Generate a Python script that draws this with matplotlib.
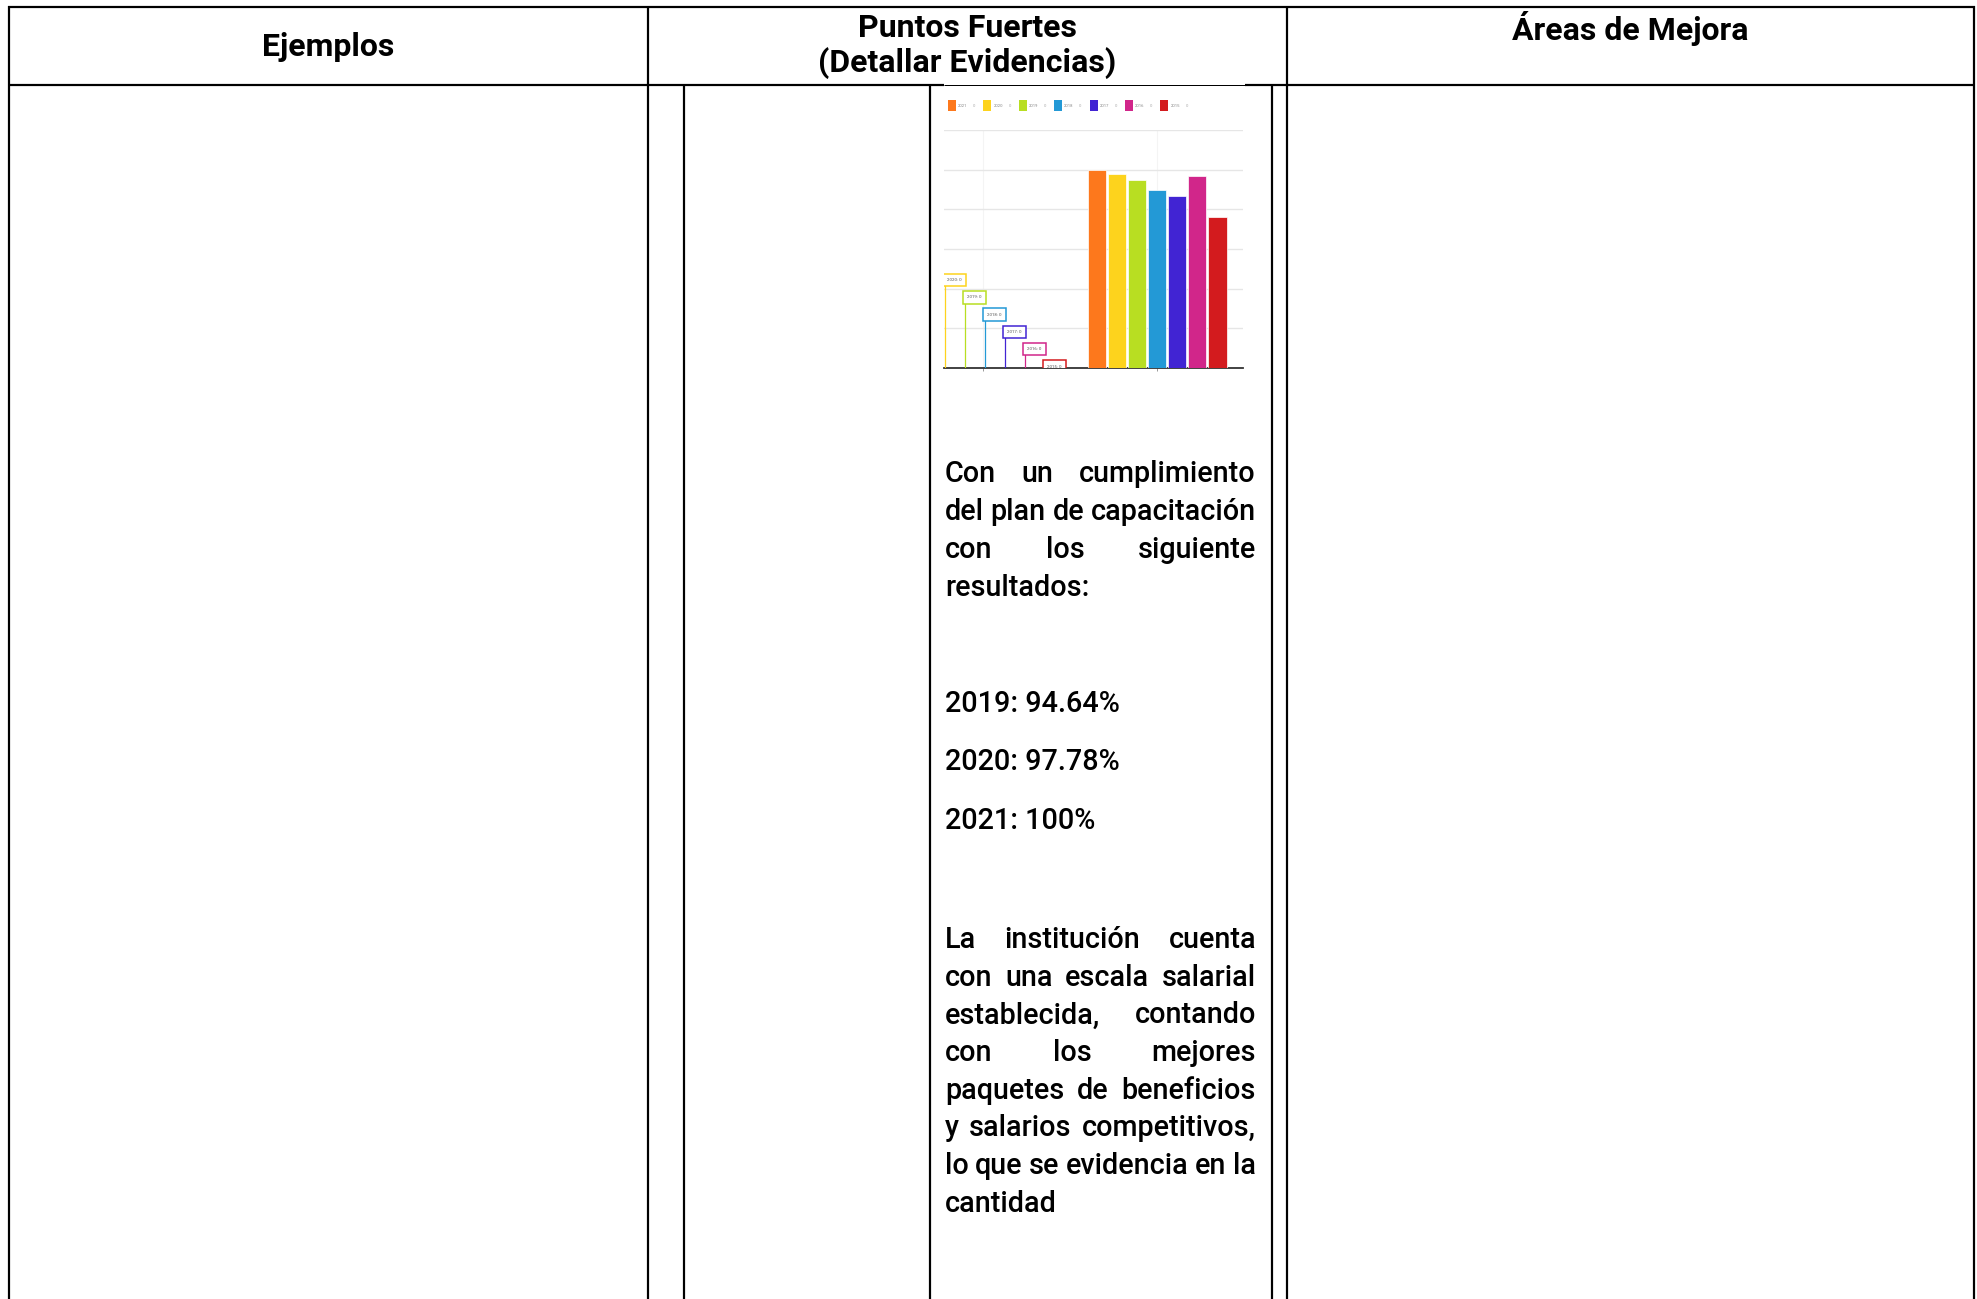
import matplotlib
matplotlib.use("Agg")
import matplotlib.pyplot as plt
from matplotlib.patches import Rectangle
import numpy as np

# ---------------- data ----------------
series_years = ["2021", "2020", "2019", "2018", "2017", "2016", "2015"]
series_colors = ["#fd781c", "#fdd31d", "#b8de22", "#2399d6", "#4124d3", "#d1268a", "#d31b1e"]
categories = ["A", "B"]
values_cat_a = [0, 0, 0, 0, 0, 0, 0]
values_cat_b = [100, 97.78, 94.64, 89.6, 86.7, 97.0, 76.3]
y_ticks = [0, 20, 40, 60, 80, 100, 120]

headers = ["Ejemplos", "Puntos Fuertes\n(Detallar Evidencias)", "Áreas de Mejora"]
para1 = ["Con un cumplimiento", "del plan de capacitación", "con los siguiente", "resultados:"]
results = ["2019: 94.64%", "2020: 97.78%", "2021: 100%"]
para2 = ["La institución cuenta", "con una  escala salarial", "establecida, contando",
         "con los mejores", "paquetes de beneficios", "y salarios competitivos,",
         "lo que se evidencia en la", "cantidad"]

W, H = 1977, 1299
FONT = ["Roboto", "DejaVu Sans"]

fig = plt.figure(figsize=(W / 100, H / 100), dpi=100)
fig.patch.set_facecolor("white")
ov = fig.add_axes([0, 0, 1, 1])
ov.set_xlim(0, W)
ov.set_ylim(H, 0)
ov.axis("off")
renderer = fig.canvas.get_renderer()

PX = 72 / 100  # points per pixel
LW = 2.2 * PX

# ---------------- table grid ----------------
def hline(y, x0, x1, lw=LW):
    ov.plot([x0, x1], [y, y], color="black", lw=lw, solid_capstyle="butt")

def vline(x, y0, y1, lw=LW):
    ov.plot([x, x], [y0, y1], color="black", lw=lw, solid_capstyle="butt")

hline(7, 8, 1975)
hline(85, 8, 944)
hline(85, 1245, 1975)
hline(84.5, 944, 1245, lw=1.0 * PX)
for x in [9, 648, 1287, 1974]:
    vline(x, 6, H)
for x in [684, 930, 1272]:
    vline(x, 85, H)

# ---------------- helpers ----------------
def twidth(s, size, weight="normal"):
    t = ov.text(0, 0, s, fontsize=size, family=FONT, weight=weight)
    w = t.get_window_extent(renderer).width
    t.remove()
    return w

def fit_size(s, target, weight="normal"):
    return 20 * target / twidth(s, 20, weight)

# ---------------- headers ----------------
hsize = fit_size("(Detallar Evidencias)", 296, "bold")
ov.text(328.5, 47, headers[0], fontsize=hsize, family=FONT, weight="bold",
        ha="center", va="center")
ov.text(967.5, 46, headers[1], fontsize=hsize, family=FONT, weight="bold",
        ha="center", va="center", linespacing=1.18)
ov.text(1630.5, 28, headers[2], fontsize=hsize, family=FONT, weight="bold",
        ha="center", va="center")

# ---------------- body text (justified) ----------------
BW = "medium"
bsize = fit_size("del plan de capacitación", 312, BW)
X0, X1 = 945, 1256

def justified(lines, y0, step):
    for i, line in enumerate(lines):
        y = y0 + i * step
        words = line.split()
        last = i == len(lines) - 1
        if last or len(words) == 1:
            ov.text(X0, y, line, fontsize=bsize, family=FONT, weight=BW,
                    ha="left", va="baseline")
            continue
        widths = [twidth(w, bsize, BW) for w in words]
        gap = (X1 - X0 - sum(widths)) / (len(words) - 1)
        x = X0
        for w, wd in zip(words, widths):
            ov.text(x, y, w, fontsize=bsize, family=FONT, weight=BW,
                    ha="left", va="baseline")
            x += wd + gap

justified(para1, 482, 38)
for i, r in enumerate(results):
    ov.text(X0, 712 + i * 58.3, r, fontsize=bsize, family=FONT, weight=BW,
            ha="left", va="baseline")
justified(para2, 948, 37.7)

# ---------------- embedded chart ----------------
cx0, cx1 = 944, 1243
cy_top, cy_base = 130, 368
cax = fig.add_axes([cx0 / W, 1 - cy_base / H, (cx1 - cx0) / W, (cy_base - cy_top) / H])
cax.set_facecolor("white")
n = len(series_years)
step = 0.1153
bw = 0.105
xc = np.arange(len(categories))
for i in range(n):
    off = (i - (n - 1) / 2) * step
    cax.bar(xc + off, [values_cat_a[i], values_cat_b[i]], width=bw,
            color=series_colors[i], edgecolor="white", linewidth=0.5, zorder=3)

XMIN, XMAX = -0.222, 1.493
cax.set_xlim(XMIN, XMAX)
cax.set_ylim(0, 120)
cax.set_yticks(y_ticks)
cax.set_xticks(xc)
cax.grid(True, axis="y", color="#e6e6e6", lw=1.0)
cax.grid(True, axis="x", color="#f4f4f4", lw=0.8)
cax.tick_params(left=False, labelleft=False, labelbottom=False,
                bottom=True, length=2, color="#888888", width=0.6)
for s in ["top", "right", "left"]:
    cax.spines[s].set_visible(False)
cax.spines["bottom"].set_color("#333333")
cax.spines["bottom"].set_linewidth(1.3)
cax.set_axisbelow(True)

# flag-style data labels for the first (zero) category
for i in range(n):
    off = (i - (n - 1) / 2) * step
    xl = xc[0] + off + 0.013
    if xl < XMIN:
        continue  # label lies outside the cropped chart view
    top = 55.6 - i * 8.73
    cax.plot([xl, xl], [0, top], color=series_colors[i], lw=0.9, zorder=4,
             clip_on=True)
    cax.text(xl + 0.011, top - 1.5, f"{series_years[i]}: {values_cat_a[i]}",
             fontsize=3.2, family=FONT, color="#555555", ha="left", va="top",
             zorder=5, clip_on=True,
             bbox=dict(boxstyle="square,pad=0.95", fc="white",
                       ec=series_colors[i], lw=1.1))

# legend row above chart
lx0, lstep, ly = 948, 35.4, 105
for i in range(n):
    x = lx0 + i * lstep
    ov.add_patch(Rectangle((x, ly - 5), 8, 10.5, fc=series_colors[i],
                           ec="none", zorder=6))
    ov.text(x + 10, ly + 0.5, series_years[i], fontsize=3.0, family=FONT,
            color="#888888", ha="left", va="center", zorder=6)
    ov.text(x + 25, ly + 0.5, "0", fontsize=3.0, family=FONT,
            color="#aaaaaa", ha="left", va="center", zorder=6)

fig.savefig("out.png", dpi=100, facecolor="white")
